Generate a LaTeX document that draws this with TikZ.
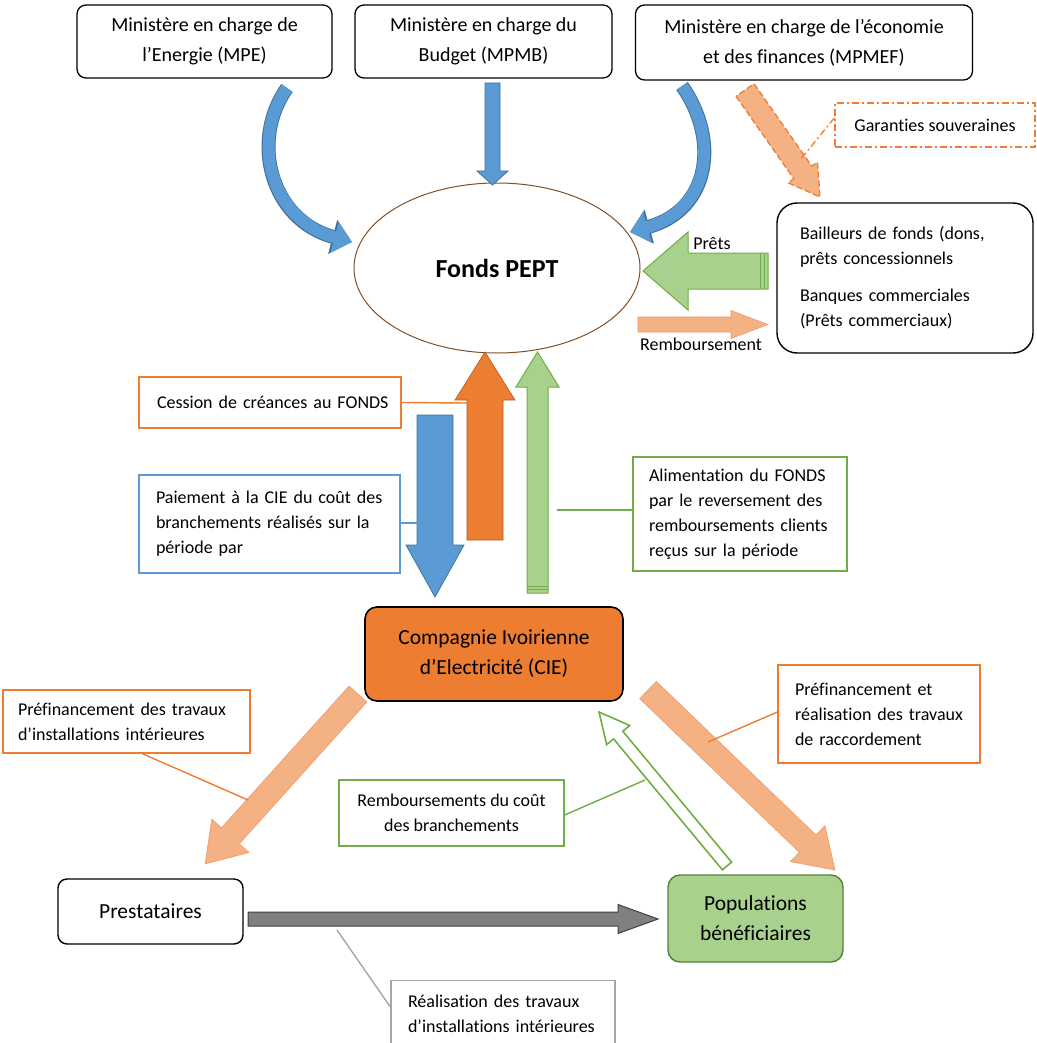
\documentclass[tikz,border=0pt]{standalone}
\usepackage{fontspec}
\setmainfont{Carlito}[Ligatures=NoCommon]
\usetikzlibrary{arrows.meta,calc,shapes.geometric}
\definecolor{cblue}{HTML}{5B9BD5}
\definecolor{cbluedk}{HTML}{41719C}
\definecolor{corange}{HTML}{ED7D31}
\definecolor{corangedk}{HTML}{AE5A21}
\definecolor{csalmon}{HTML}{F4B183}
\definecolor{csalmondk}{HTML}{F19A6C}
\definecolor{cgreen}{HTML}{A9D18E}
\definecolor{cgreendk}{HTML}{70AD47}
\definecolor{cgreenxdk}{HTML}{548235}
\definecolor{cgray}{HTML}{808080}
\definecolor{cbrown}{HTML}{7F4F28}
\newcommand\fsm{\fontsize{18}{25}\selectfont}
\newcommand\fmin{\fontsize{20}{30}\selectfont}
\newcommand\fbig{\fontsize{21.5}{30}\selectfont}
\newcommand\fatarrow[6]{%
  \path let \p1=(#2), \p2=(#3), \n1={atan2(\y2-\y1,\x2-\x1)}, \n2={veclen(\x2-\x1,\y2-\y1)} in
    \pgfextra{\xdef\faang{\n1}\xdef\falen{\n2}\xdef\fax{\x1}\xdef\fay{\y1}};
  \begin{scope}[shift={(\fax,\fay)},rotate=\faang,x=1pt,y=1pt]
    \draw[#1] (0,-#4) -- ({\falen-#6},-#4) -- ({\falen-#6},-#5) -- (\falen,0)
      -- ({\falen-#6},#5) -- ({\falen-#6},#4) -- (0,#4) -- cycle;
  \end{scope}}
\tikzset{
  minbox/.style={draw=black, line width=1.3pt, rounded corners=9pt, fill=white, align=center, font=\fmin, inner sep=0pt},
  notebox/.style={line width=1.3pt, fill=white, align=left, font=\fsm, inner ysep=0pt},
  conn/.style={line width=1.4pt},
  bluearr/.style={fill=cblue, draw=cbluedk, line width=0.8pt},
  orangearr/.style={fill=corange, draw=corangedk, line width=0.6pt},
  salmonarr/.style={fill=csalmon, draw=csalmondk, line width=0.6pt},
  greenarr/.style={fill=cgreen, draw=cgreendk, line width=1pt},
  hollowarr/.style={fill=white, draw=cgreendk, line width=1.6pt},
  grayarr/.style={fill=cgray, draw=black!75, line width=1pt},
  dashdot/.style={dash pattern=on 7pt off 3pt on 2pt off 3pt}
}
\begin{document}
\begin{tikzpicture}[x=1pt,y=-1pt]
\useasboundingbox (0,0) rectangle (1036,1043);
\clip (0,0) rectangle (1036,1043);

% ministries
\node[minbox, minimum width=255pt, minimum height=73pt] (mpe) at (204.5,41.5) {Ministère en charge de\\l’Energie (MPE)};
\node[minbox, minimum width=257pt, minimum height=73pt] (mpmb) at (483.5,41.5) {Ministère en charge du\\Budget (MPMB)};
\node[minbox, minimum width=337pt, minimum height=75pt] (mpmef) at (804,42.5) {Ministère en charge de l’économie\\et des finances (MPMEF)};

% Fonds
\node[ellipse, draw=cbrown, line width=1pt, minimum width=286pt, minimum height=170pt, font=\fontsize{26}{30}\selectfont\bfseries] (fonds) at (497,268) {Fonds PEPT};

% Bailleurs
\node[draw=black, line width=1.4pt, rounded corners=20pt, align=left, font=\fsm, minimum width=256pt, minimum height=150pt, text width=210pt, inner xsep=23pt] (bail) at (905,278)
 {\mbox{Bailleurs de fonds (dons,}\\\mbox{prêts concessionnels}\\[12pt]\mbox{Banques commerciales}\\\mbox{(Prêts commerciaux)}};

% Garanties
\node[draw=corange, dashdot, line width=1.4pt, font=\fsm, minimum width=200pt, minimum height=44pt, inner sep=0pt] (gar) at (935,125) {Garanties souveraines};

% CIE
\node[draw=black, line width=1.6pt, rounded corners=12pt, fill=corange, align=center, font=\fbig, minimum width=258pt, minimum height=94pt] (cie) at (494,654) {Compagnie Ivoirienne\\d’Electricité (CIE)};

% Note boxes
\node[notebox, draw=corange, minimum width=262pt, minimum height=51pt, text width=226pt, inner xsep=18pt] (cess) at (270,402.5) {\mbox{Cession de créances au FONDS}};
\node[notebox, draw=cblue, minimum width=261pt, minimum height=98pt, text width=227pt, inner xsep=17pt] (paie) at (269.5,524) {\mbox{Paiement à la CIE du coût des}\\\mbox{branchements réalisés sur la}\\\mbox{période par}};
\node[notebox, draw=cgreendk, minimum width=214pt, minimum height=114pt, text width=182pt, inner xsep=16pt] (alim) at (740,514) {\mbox{Alimentation du FONDS}\\\mbox{par le reversement des}\\\mbox{remboursements clients}\\\mbox{reçus sur la période}};
\node[notebox, draw=corange, minimum width=247pt, minimum height=63pt, text width=217pt, inner xsep=15pt] (prefl) at (126.5,721.5) {\mbox{Préfinancement des travaux}\\\mbox{d’installations intérieures}};
\node[notebox, draw=corange, minimum width=202pt, minimum height=98pt, text width=168pt, inner xsep=17pt] (prefr) at (879,714) {\mbox{Préfinancement et}\\\mbox{réalisation des travaux}\\\mbox{de raccordement}};
\node[notebox, draw=cgreendk, align=center, minimum width=225pt, minimum height=66pt, inner xsep=0pt] (remb) at (451.5,813) {Remboursements du coût\\des branchements};
\node[notebox, draw=black!35, anchor=north, minimum width=224pt, minimum height=66pt, text width=190pt, inner xsep=17pt] (real) at (503,980) {\mbox{Réalisation des travaux}\\\mbox{d’installations intérieures}};

% bottom boxes
\node[draw=black, line width=1.4pt, rounded corners=9pt, font=\fbig, minimum width=185pt, minimum height=65pt] (prest) at (150.5,911.5) {Prestataires};
\node[draw=cgreenxdk, line width=1.4pt, rounded corners=12pt, fill=cgreen, align=center, font=\fbig, minimum width=175pt, minimum height=87pt] (pop) at (755.5,918.5) {Populations\\bénéficiaires};

% arrow end coordinates
\coordinate (mpmbS) at (492.5,83);   \coordinate (mpmbE) at (492.5,185);
\coordinate (mpeS) at (287,88);      \coordinate (mpeE) at (352,242);
\coordinate (mpefS) at (682,86);     \coordinate (mpefE) at (630,232);
\coordinate (garS) at (745,90);      \coordinate (garE) at (820,197);
\coordinate (pretS) at (768,271);    \coordinate (pretE) at (643,271);
\coordinate (rembS) at (638,324.5);  \coordinate (rembE) at (768,324.5);
\coordinate (cessS) at (485,540);    \coordinate (cessE) at (485,352);
\coordinate (paieS) at (435,415);    \coordinate (paieE) at (435,597);
\coordinate (alimS) at (537.5,593);  \coordinate (alimE) at (537.5,352);
\coordinate (prlS) at (358,694);     \coordinate (prlE) at (205,864);
\coordinate (prrS) at (648,690);     \coordinate (prrE) at (835,870);
\coordinate (rbS) at (727,866);      \coordinate (rbE) at (599,712);
\coordinate (reS) at (248,919);      \coordinate (reE) at (658,919);

% fat arrows
\fatarrow{bluearr}{mpmbS}{mpmbE}{7.5}{15.5}{14}
\draw[cbluedk, line width=14pt, -{Triangle[length=20pt,width=34pt]}] (mpeS) .. controls (250,140) and (270,220) .. (mpeE);
\draw[cblue, line width=12pt, -{Triangle[length=18pt,width=31pt]}] (mpeS) .. controls (250,140) and (270,220) .. (mpeE);
\draw[cbluedk, line width=14pt, -{Triangle[length=20pt,width=34pt]}] (mpefS) .. controls (720,140) and (710,210) .. (mpefE);
\draw[cblue, line width=12pt, -{Triangle[length=18pt,width=31pt]}] (mpefS) .. controls (720,140) and (710,210) .. (mpefE);
\fatarrow{salmonarr, draw=corange, line width=1.3pt, dash pattern=on 6pt off 3pt}{garS}{garE}{11}{18}{30}
\fatarrow{greenarr}{pretS}{pretE}{18}{39}{45}
\draw[cgreendk, line width=1pt] (760,253) -- (760,289) (764,253) -- (764,289);
\fatarrow{salmonarr}{rembS}{rembE}{7.5}{14}{37}
\fatarrow{bluearr}{paieS}{paieE}{18}{29}{52}
\fatarrow{orangearr}{cessS}{cessE}{18}{30}{48}
\fatarrow{greenarr}{alimS}{alimE}{10.5}{21.5}{35}
\draw[cgreendk, line width=1pt] (527,586) -- (548,586) (527,589) -- (548,589);
\fatarrow{salmonarr}{prlS}{prlE}{12}{25}{38}
\fatarrow{salmonarr}{prrS}{prrE}{12}{25}{38}
\fatarrow{hollowarr}{rbS}{rbE}{6}{15}{30}
\fatarrow{grayarr}{reS}{reE}{7}{14.5}{40}

% labels of arrows
\node[font=\fsm, inner sep=0pt] (lpret) at (712,243) {Prêts};
\node[font=\fsm, inner sep=0pt] (lremb) at (701,344) {Remboursement};

% connectors for note boxes
\coordinate (garC) at (800,160);
\draw[corange, line width=1.3pt, dashdot] (gar.west |- 0,118) -- (garC);
\coordinate (cessC) at (467,403);
\draw[corange, conn] (cess.east) -- (cessC);
\coordinate (paieC) at (430,523);
\draw[cblue, conn] (paie.east |- paieC) -- (paieC);
\coordinate (alimC) at (557,510);
\draw[cgreendk, conn] (alim.west |- alimC) -- (alimC);
\coordinate (preflA) at (142,753.5); \coordinate (preflC) at (248,800);
\draw[corange, conn] (preflA) -- (preflC);
\coordinate (prefrC) at (708,742);
\draw[corange, conn] (prefr.west |- 0,712) -- (prefrC);
\coordinate (rembC) at (645,780);
\draw[cgreendk, conn] (remb.east |- 0,815) -- (rembC);
\coordinate (realC) at (337,930);
\draw[black!35, conn] (real.west |- 0,1007) -- (realC);
\end{tikzpicture}
\end{document}
